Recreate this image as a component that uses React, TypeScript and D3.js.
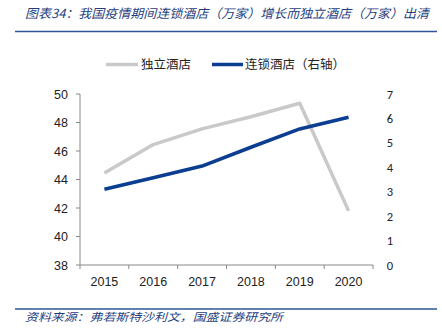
import React from "react";
import * as d3 from "d3";

const years = ["2015", "2016", "2017", "2018", "2019", "2020"];
const independent = [44.45, 46.45, 47.55, 48.4, 49.35, 41.8];
const chain = [3.1, 3.57, 4.05, 4.82, 5.57, 6.05];
const leftTicks = [38, 40, 42, 44, 46, 48, 50];
const rightTicks = [0, 1, 2, 3, 4, 5, 6, 7];
const title = "图表34：我国疫情期间连锁酒店（万家）增长而独立酒店（万家）出清";
const source = "资料来源：弗若斯特沙利文，国盛证券研究所";
const legendLabels = ["独立酒店", "连锁酒店（右轴）"];

const W = 442, H = 336;
const left = 80, right = 373, top = 94, bottom = 265;
const GRAY = "#c9c9c9";
const BLUE = "#0b3d91";
const TITLE_BLUE = "#1f3f7f";

export default function App() {
  const x = d3.scaleBand().domain(years).range([left, right]);
  const yL = d3.scaleLinear().domain([38, 50]).range([bottom, top]);
  const yR = d3.scaleLinear().domain([0, 7]).range([bottom, top]);
  const cx = (d: string) => (x(d) as number) + x.bandwidth() / 2;
  const lineL = d3.line<number>().x((_, i) => cx(years[i])).y((d) => yL(d));
  const lineR = d3.line<number>().x((_, i) => cx(years[i])).y((d) => yR(d));
  const cjk = "'Noto Sans CJK SC', sans-serif";
  const arial = "'Liberation Sans', Arial, sans-serif";
  const xTicks = years.map((y) => x(y) as number).concat([right]);
  return (
    <svg width={W} height={H} style={{ position: "absolute", left: 0, top: 0, background: "#fff" }}>
      <text x={25} y={17.5} fontFamily={cjk} fontSize={12.5} fontStyle="italic" fill={TITLE_BLUE} textLength={404} lengthAdjust="spacingAndGlyphs">{title}</text>
      <line x1={15} x2={437} y1={31.5} y2={31.5} stroke="#2e5596" strokeWidth={1.5} />
      {/* legend */}
      <line x1={106} x2={138} y1={64.5} y2={64.5} stroke={GRAY} strokeWidth={3.5} />
      <text x={141} y={69} fontFamily={cjk} fontSize={12.5} fill="#222">{legendLabels[0]}</text>
      <line x1={212} x2={243} y1={64.5} y2={64.5} stroke={BLUE} strokeWidth={3.5} />
      <text x={245} y={69} fontFamily={cjk} fontSize={12.5} fill="#222">{legendLabels[1]}</text>
      {/* left axis */}
      <line x1={left} x2={left} y1={top} y2={bottom} stroke="#888" />
      {leftTicks.map((t) => (
        <g key={t}>
          <line x1={left - 4} x2={left} y1={yL(t)} y2={yL(t)} stroke="#888" />
          <text x={68} y={yL(t) + 4.5} textAnchor="end" fontFamily={arial} fontSize={12.5} fill="#222">{t}</text>
        </g>
      ))}
      {/* right axis labels */}
      {rightTicks.map((t) => (
        <text key={t} x={390} y={yR(t) + 4.5} textAnchor="middle" fontFamily={"Carlito, 'Liberation Sans', sans-serif"} fontSize={12.5} fill="#222">{t}</text>
      ))}
      {/* x axis */}
      <line x1={left} x2={right} y1={bottom} y2={bottom} stroke="#888" />
      {xTicks.map((t, i) => (
        <line key={i} x1={t} x2={t} y1={bottom} y2={bottom + 4} stroke="#888" />
      ))}
      {years.map((y) => (
        <text key={y} x={cx(y)} y={286} textAnchor="middle" fontFamily={arial} fontSize={12.5} fill="#222">{y}</text>
      ))}
      {/* lines */}
      <path d={lineL(independent) as string} fill="none" stroke={GRAY} strokeWidth={3.5} strokeLinejoin="round" />
      <path d={lineR(chain) as string} fill="none" stroke={BLUE} strokeWidth={3.5} strokeLinejoin="round" />
      {/* footer */}
      <line x1={15} x2={437} y1={309} y2={309} stroke="#2e5596" strokeWidth={1.5} />
      <text x={25} y={321} fontFamily={cjk} fontSize={11} fontStyle="italic" fill={TITLE_BLUE} textLength={258} lengthAdjust="spacingAndGlyphs">{source}</text>
    </svg>
  );
}
